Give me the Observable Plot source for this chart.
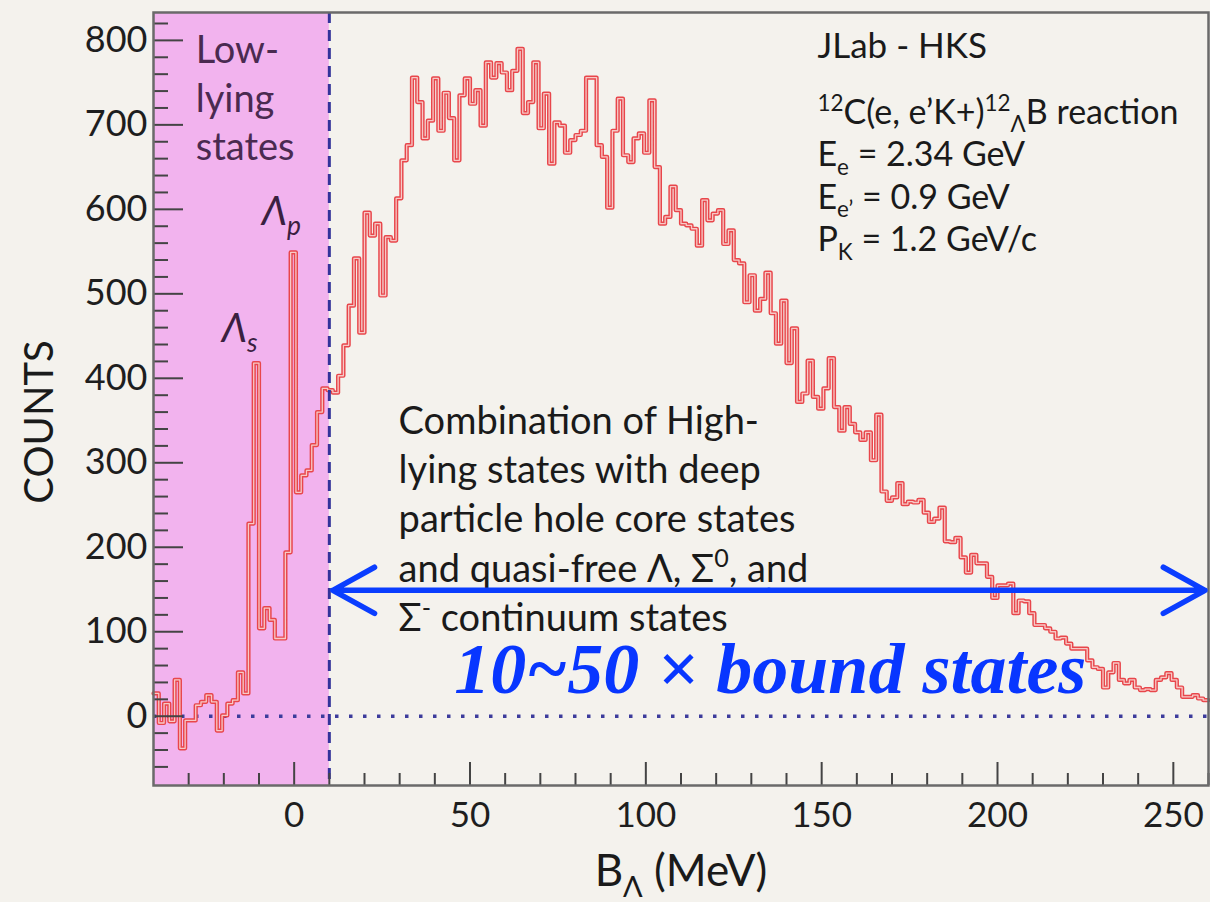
<!DOCTYPE html>
<html>
<head>
<meta charset="utf-8">
<script src="https://cdn.jsdelivr.net/npm/d3@7"></script>
<script src="https://cdn.jsdelivr.net/npm/@observablehq/plot@0.6"></script>
<style>
  html, body { margin: 0; padding: 0; background: #f4f2ed; }
  #chart { width: 1210px; height: 902px; overflow: hidden; }
</style>
</head>
<body>
<div id="chart"></div>
<script>
// ---- Data ----
const binStart = -40;     // MeV, left edge of first bin
const binWidth = 1.5;     // MeV
const counts = [
  27, -8, 15, -6, 43, -38, -5, -5, 13, 17,
  25, 17, -17, 1, 15, 19, 52, 27, 228, 418,
  104, 128, 114, 92, 92, 194, 549, 265, 285, 291,
  321, 360, 388, 386, 383, 403, 439, 486, 542, 454,
  596, 569, 583, 498, 567, 563, 613, 658, 676, 756,
  727, 684, 705, 755, 693, 738, 708, 658, 735, 755,
  725, 741, 699, 774, 756, 773, 762, 741, 764, 790,
  714, 727, 774, 696, 737, 654, 703, 699, 667, 682,
  688, 693, 756, 756, 676, 662, 602, 693, 731, 664,
  656, 684, 690, 667, 729, 650, 583, 591, 627, 599,
  583, 581, 577, 557, 611, 587, 595, 599, 559, 575,
  540, 536, 490, 522, 480, 494, 525, 477, 441, 492,
  418, 459, 372, 382, 421, 378, 364, 388, 424, 366,
  338, 366, 346, 336, 327, 336, 303, 357, 266, 255,
  259, 276, 251, 254, 253, 256, 241, 230, 234, 247,
  207, 206, 211, 188, 170, 191, 181, 181, 165, 140,
  155, 155, 157, 122, 137, 136, 122, 108, 108, 104,
  100, 92, 93, 86, 80, 80, 80, 66, 58, 56,
  34, 52, 63, 43, 39, 43, 34, 31, 32, 31,
  43, 46, 51, 43, 34, 23, 23, 25, 21, 19
];
const xTicks = [0, 50, 100, 150, 200, 250];
const yTicks = [0, 100, 200, 300, 400, 500, 600, 700, 800];
const lowLyingRange = [-40, 10];   // MeV
const boundaryLine = [10];         // MeV
const arrowSpan = [11, 259];       // MeV
const arrowLevel = 149;            // counts
const lowLyingLabel = "Low-\nlying\nstates";
const peakLabels = ["Λ_{s}", "Λ_{p}"];
const infoTitle = "JLab - HKS";
const infoLines = ["^{12}C(e, e’K+)^{12}_{Λ}B reaction", "E_{e} = 2.34 GeV", "E_{e’} = 0.9 GeV", "P_{K} = 1.2 GeV/c"];
const continuumText = "Combination of High-\nlying states with deep\nparticle hole core states\nand quasi-free Λ, Σ^{0}, and\nΣ^{-} continuum states";
const ratioText = "10~50 × bound states";
const xLabel = "B_{Λ} (MeV)";
const yLabel = "COUNTS";

// ---- Derived ----
const steps = counts.map((c, i) => ({x: binStart + i * binWidth, y: c}));
steps.push({x: binStart + counts.length * binWidth, y: counts[counts.length - 1]});
const minorX = d3.range(-30, 261, 10).filter(v => v % 50 !== 0);
const minorY = d3.range(-60, 821, 20).filter(v => v % 100 !== 0);

const W = 1210, H = 902, mL = 153, mR = 2, mT = 12, mB = 117;
const pw = W - mL - mR, ph = H - mT - mB;
const arrowMid = (arrowSpan[0] + arrowSpan[1]) / 2;

const plot = Plot.plot({
  width: W, height: H,
  marginLeft: mL, marginRight: mR, marginTop: mT, marginBottom: mB,
  x: {domain: [-40, 260]},
  y: {domain: [-82, 833]},
  style: {background: "transparent", fontFamily: "Lato, sans-serif", color: "#1e1e1e"},
  marks: [
    Plot.rect([lowLyingRange], {x1: d => d[0], x2: d => d[1], fill: "#f2b3ee"}),
    Plot.ruleY([0], {stroke: "#3c3c9c", strokeWidth: 3.5, strokeDasharray: "3.5,10.5"}),
    Plot.line(steps, {x: "x", y: "y", curve: "step-after", stroke: "#e8464b", strokeWidth: 4.2}),
    Plot.line(steps, {x: "x", y: "y", curve: "step-after", stroke: "#f7c9c6", strokeWidth: 1.3}),
    Plot.ruleX(boundaryLine, {stroke: "#33339a", strokeWidth: 3, strokeDasharray: "11,7"}),
    Plot.tickY(yTicks, {y: d => d, insetRight: pw - 30, stroke: "#444", strokeWidth: 2}),
    Plot.tickY(minorY, {y: d => d, insetRight: pw - 15, stroke: "#444", strokeWidth: 2}),
    Plot.tickX(xTicks, {x: d => d, insetTop: ph - 23, stroke: "#444", strokeWidth: 2}),
    Plot.tickX(minorX, {x: d => d, insetTop: ph - 12, stroke: "#444", strokeWidth: 2}),
    Plot.frame({stroke: "#6a6a6a", strokeWidth: 2.5}),
    Plot.axisX(xTicks, {tickSize: 0, tickPadding: 17, fontSize: 35, label: null, tickFormat: d => d}),
    Plot.axisY(yTicks, {tickSize: 0, tickPadding: 6, fontSize: 36, label: null, tickFormat: d => d}),
    // annotations
    Plot.text([lowLyingLabel], {x: () => -28, y: () => 814, textAnchor: "start", lineAnchor: "top", lineHeight: 1.28, fontSize: 38, fill: "#4a2a50"}),
    Plot.text([peakLabels[0]], {x: () => -20.6, y: () => 458, textAnchor: "start", fontSize: 40, fontStyle: "italic", fill: "#3a2040"}),
    Plot.text([peakLabels[1]], {x: () => -9.2, y: () => 597, textAnchor: "start", fontSize: 40, fontStyle: "italic", fill: "#3a2040"}),
    Plot.text([infoTitle], {x: () => 148.8, y: () => 809, textAnchor: "start", lineAnchor: "top", fontSize: 35, fill: "#1a1a1a"}),
    Plot.text([infoLines.join("\n")], {x: () => 148.8, y: () => 737, textAnchor: "start", lineAnchor: "top", lineHeight: 1.25, fontSize: 34, fill: "#1a1a1a"}),
    Plot.text([continuumText], {x: () => 29.7, y: () => 376, textAnchor: "start", lineAnchor: "top", lineHeight: 1.3, fontSize: 38, fill: "#1a1a1a"}),
    Plot.arrow([arrowSpan[0], arrowSpan[1]], {x1: () => arrowMid, x2: d => d, y1: () => arrowLevel, y2: () => arrowLevel, stroke: "#0a3dff", strokeWidth: 5.5, headLength: 13, headAngle: 58}),
    Plot.text([ratioText], {x: () => 135.4, y: () => 55, textAnchor: "middle", fontSize: 72, fontWeight: "bold", fontStyle: "italic", fontFamily: "Liberation Serif, serif", fill: "#0836ff"}),
    Plot.text([yLabel], {frameAnchor: "left", dx: -113, dy: 23, rotate: -90, textAnchor: "middle", lineAnchor: "middle", fontSize: 40, fill: "#1a1a1a"}),
    Plot.text([xLabel], {frameAnchor: "bottom", dy: 86, textAnchor: "middle", lineAnchor: "middle", fontSize: 44, fill: "#1a1a1a"})
  ]
});

document.getElementById("chart").appendChild(plot);

// rich text: _{sub} and ^{sup}
function richify(svg) {
  svg.querySelectorAll("text, tspan").forEach(el => {
    if (el.children.length) return;
    const s = el.textContent;
    if (!/[_^]\{/.test(s)) return;
    const fs = parseFloat(getComputedStyle(el).fontSize) || 16;
    el.textContent = "";
    const re = /([_^])\{([^}]*)\}|([^_^]+)/g;
    let m, shift = 0;
    while ((m = re.exec(s))) {
      const t = document.createElementNS("http://www.w3.org/2000/svg", "tspan");
      let target = 0;
      if (m[1] === "_") { target = 0.25 * fs; t.setAttribute("font-size", 0.66 * fs); t.textContent = m[2]; }
      else if (m[1] === "^") { target = -0.38 * fs; t.setAttribute("font-size", 0.66 * fs); t.textContent = m[2]; }
      else { t.textContent = m[3]; }
      if (target !== shift) { t.setAttribute("dy", target - shift); shift = target; }
      el.appendChild(t);
    }
  });
}
richify(plot);
</script>
</body>
</html>
